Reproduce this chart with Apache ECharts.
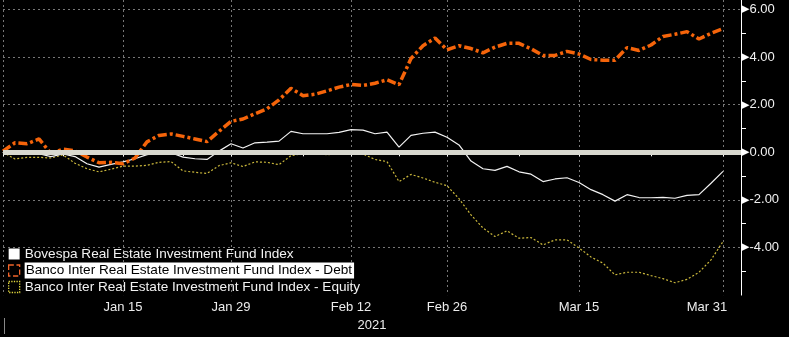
<!DOCTYPE html>
<html><head><meta charset="utf-8">
<script src="https://cdn.jsdelivr.net/npm/echarts@6/dist/echarts.min.js"></script>
<style>html,body{margin:0;padding:0;background:#000;}#c{width:789px;height:337px;}</style>
</head><body><div id="c"></div>
<script>
const FONT = 'Liberation Sans, Arial, sans-serif';
const seriesNames = [
  'Bovespa Real Estate Investment Fund Index',
  'Banco Inter Real Estate Investment Fund Index - Debt',
  'Banco Inter Real Estate Investment Fund Index - Equity'
];
// trading-day index 0..60
const tickDays = [0,5,10,15,19,25,29,33,37,43,48,54,60];
const labelDays = [10,19,29,37,48,60];
const labelTexts = ['Jan 15','Jan 29','Feb 12','Feb 26','Mar 15','Mar 31'];
const gridDays = [0,10,19,29,37,48,60];
const yearLabel = '2021';

const bovespa = [0.00,-0.05,-0.05,-0.06,-0.18,-0.07,-0.18,-0.48,-0.62,-0.51,
  -0.40,-0.27,-0.10,-0.02,-0.02,-0.20,-0.27,-0.30,0.05,0.36,
  0.18,0.40,0.43,0.47,0.88,0.78,0.78,0.78,0.84,0.95,
  0.93,0.78,0.85,0.22,0.71,0.80,0.85,0.63,0.31,-0.37,
  -0.69,-0.76,-0.59,-0.82,-0.92,-1.23,-1.12,-1.07,-1.27,-1.57,
  -1.78,-2.05,-1.78,-1.90,-1.91,-1.89,-1.93,-1.81,-1.78,-1.30,
  -0.80];
const debt = [0.05,0.40,0.36,0.56,-0.05,0.13,0.06,-0.20,-0.44,-0.42,
  -0.48,-0.24,0.44,0.71,0.77,0.67,0.56,0.45,0.88,1.30,
  1.40,1.62,1.83,2.20,2.69,2.38,2.44,2.58,2.74,2.85,
  2.81,2.90,3.05,2.84,3.94,4.48,4.80,4.31,4.48,4.36,
  4.18,4.42,4.58,4.58,4.35,4.07,4.07,4.24,4.13,3.90,
  3.87,3.87,4.40,4.28,4.51,4.87,4.96,5.07,4.76,5.00,
  5.20];
const equity = [0.00,-0.28,-0.21,-0.21,-0.24,-0.11,-0.46,-0.69,-0.82,-0.71,
  -0.58,-0.58,-0.55,-0.42,-0.39,-0.78,-0.84,-0.89,-0.56,-0.44,
  -0.60,-0.40,-0.42,-0.52,-0.14,-0.06,-0.06,-0.10,-0.05,-0.03,
  -0.07,-0.30,-0.39,-1.23,-0.93,-1.08,-1.26,-1.40,-1.95,-2.63,
  -3.18,-3.54,-3.30,-3.61,-3.58,-3.89,-3.68,-3.68,-4.02,-4.40,
  -4.66,-5.15,-5.04,-5.04,-5.18,-5.31,-5.48,-5.34,-5.04,-4.52,
  -3.75];

// half-day category slots so the axis extends a bit past the last day
const slotCount = 2 * (bovespa.length - 1) + 4;
const cats = Array.from({length: slotCount}, (_, k) => String(k));
const toPairs = arr => arr.map((v, i) => [2 * i, v]);
const isDay = (i, list) => i % 2 === 0 && list.includes(i / 2);

const chart = echarts.init(document.getElementById('c'), null, {renderer: 'canvas'});
chart.setOption({
  backgroundColor: '#000',
  animation: false,
  grid: {left: 3, right: 48, top: 0, height: 302},
  legend: {
    orient: 'vertical', left: 8, top: 246, padding: 0, itemWidth: 11, itemHeight: 11, itemGap: 0.5,
    selectedMode: false,
    textStyle: {color: '#f2f2f2', fontSize: 13.6, lineHeight: 16, fontFamily: FONT},
    data: [
      {name: seriesNames[0], icon: 'rect', itemStyle: {color: '#ffffff', borderWidth: 0}},
      {name: seriesNames[1], icon: 'rect',
        itemStyle: {color: '#000000', opacity: 1, borderColor: '#f0642a', borderWidth: 1.3, borderType: 'dashed'},
        textStyle: {color: '#000', backgroundColor: '#ffffff', padding: [0, 2, 0, 1]}},
      {name: seriesNames[2], icon: 'rect',
        itemStyle: {color: '#000000', opacity: 1, borderColor: '#e0d63c', borderWidth: 1.3, borderType: 'dotted'}}
    ]
  },
  xAxis: {
    type: 'category', boundaryGap: false, data: cats,
    name: yearLabel, nameLocation: 'middle', nameGap: 22,
    nameTextStyle: {color: '#ececec', fontSize: 13, fontFamily: FONT},
    axisLine: {lineStyle: {color: '#ffffff', width: 1}},
    axisTick: {show: true, length: 4, interval: i => isDay(i, tickDays), lineStyle: {color: '#ffffff'}},
    axisLabel: {
      interval: i => isDay(i, labelDays),
      color: '#ececec', fontSize: 13, fontFamily: FONT, margin: 6,
      formatter: (v) => {
        const d = Number(v) / 2;
        const k = labelDays.indexOf(d);
        if (k < 0) return '';
        return k === labelDays.length - 1 ? '{r|' + labelTexts[k] + '}' : labelTexts[k];
      },
      rich: {r: {color: '#ececec', fontSize: 13, fontFamily: FONT, padding: [0, 32, 0, 0]}}
    },
    splitLine: {show: true, interval: i => isDay(i, gridDays), lineStyle: {color: '#777', type: [2, 3], width: 1}}
  },
  yAxis: {
    type: 'value', position: 'right', min: -6, max: 6.4, interval: 2,
    axisLine: {show: true, lineStyle: {color: '#ffffff', width: 1}},
    axisTick: {show: false},
    minorTick: {show: true, splitNumber: 2, length: 5, lineStyle: {color: '#ffffff'}},
    splitLine: {show: true, showMaxLine: false, showMinLine: false, lineStyle: {color: '#777', type: [2, 3], width: 1}},
    axisLabel: {
      showMaxLabel: false, showMinLabel: false, margin: 0,
      formatter: v => '{a|\u25B6}{b|' + v.toFixed(2) + '}',
      rich: {
        a: {fontSize: 11, color: '#ffffff', fontFamily: 'DejaVu Sans'},
        b: {fontSize: 13, color: '#f0f0f0', fontFamily: FONT}
      }
    }
  },
  series: [
    {name: seriesNames[0], type: 'line', data: toPairs(bovespa), showSymbol: false,
      lineStyle: {color: '#f2f2f2', width: 1.2}, itemStyle: {color: '#f2f2f2'}, z: 3},
    {name: seriesNames[1], type: 'line', data: toPairs(debt), showSymbol: false,
      lineStyle: {color: '#f5640a', width: 3.5, type: [9, 3, 3, 3], cap: 'butt'}, itemStyle: {color: '#f5640a'}, z: 4},
    {name: seriesNames[2], type: 'line', data: toPairs(equity), showSymbol: false,
      lineStyle: {color: '#cbb83c', width: 1.2, type: [2, 2]}, itemStyle: {color: '#cbb83c'}, z: 2,
      markLine: {silent: true, symbol: ['none', 'none'], label: {show: false}, z: 6,
        lineStyle: {color: '#d8d8cf', width: 5, type: 'solid'},
        data: [{yAxis: 0}]}}
  ],
  graphic: [{type: 'line', shape: {x1: 4.5, y1: 318, x2: 4.5, y2: 334}, style: {stroke: '#888', lineWidth: 1}}]
});
</script></body></html>
